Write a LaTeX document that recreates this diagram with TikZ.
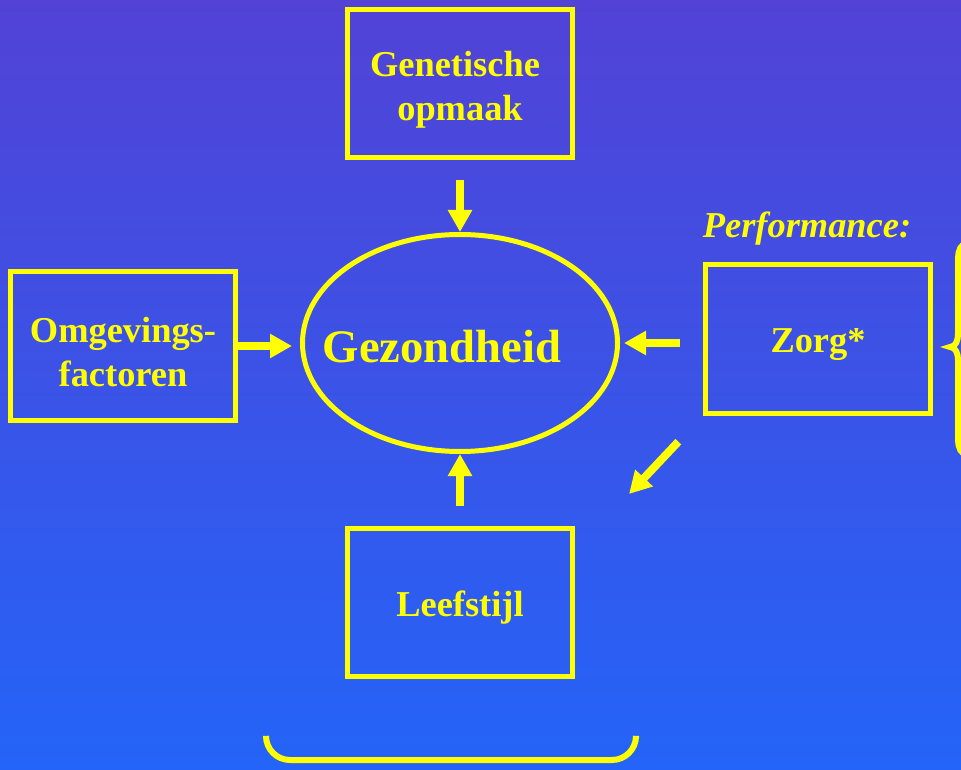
\documentclass[tikz,border=0pt]{standalone}
\usepackage{fontspec}
\setmainfont{Liberation Serif}
\usetikzlibrary{arrows.meta,shapes.geometric}
\definecolor{bgtop}{RGB}{82,66,214}
\definecolor{bgbot}{RGB}{36,100,248}
\definecolor{yel}{RGB}{255,255,0}
\begin{document}
\begin{tikzpicture}[x=0.5pt,y=-0.5pt,
  box/.style={draw=yel,line width=2.5pt,minimum width=112.5pt,minimum height=74pt,inner sep=0pt},
  boxtxt/.style={align=center,text=yel,yshift=-3pt,font=\fontsize{18.2}{22}\selectfont\bfseries},
  feed/.style={draw=yel,line width=4pt,-{Triangle[width=11.5pt,length=11pt]}},
  curl/.style={draw=yel,line width=3pt}]
\useasboundingbox (0,0) rectangle (961,769);
\shade[top color=bgtop,bottom color=bgbot] (0,0) rectangle (961,769);
\node[box,label={[boxtxt]center:Genetische\hspace*{5pt}\\opmaak}] (geno) at (460,84) {};
\node[box,label={[boxtxt]center:Omgevings-\\factoren}] (omg) at (123,346) {};
\node[box,label={[boxtxt]center:Leefstijl}] (leef) at (460,602) {};
\node[box,label={[boxtxt]center:Zorg*}] (zorg) at (818,339) {};
\node[ellipse,draw=yel,line width=2.5pt,minimum width=157.5pt,minimum height=108.5pt,inner sep=0pt,
  label={[text=yel,font=\fontsize{23.3}{28}\selectfont\bfseries,xshift=-9pt,yshift=-2pt]center:Gezondheid}] (gez) at (460,343) {};
\node[text=yel,font=\fontsize{18.2}{22}\selectfont\bfseries\itshape] (perf) at (807,229) {Performance:};
\coordinate (zorgtip) at (629,494);
\draw[feed,shorten <=10pt] (geno.south) -- (gez.north);
\draw[feed,shorten >=4pt] (omg.east) -- (omg.east -| gez.west);
\draw[feed,shorten <=10pt] (leef.north) -- (gez.south);
\draw[feed,shorten <=11.5pt,shorten >=2pt] (zorg.west |- gez) -- (gez.east);
\draw[feed,shorten <=18pt] (zorg.south west) -- (zorgtip);
% accolades
\draw[curl,rounded corners=12pt] (266,737) -- (266,760) -- (636,760) -- (636,737);
\draw[curl] (968,243) to[out=180,in=90] (958,258) -- (958,334) to[out=-90,in=0] (950,347)
  to[out=0,in=90] (958,360) -- (958,440) to[out=-90,in=180] (968,455);
\end{tikzpicture}
\end{document}
